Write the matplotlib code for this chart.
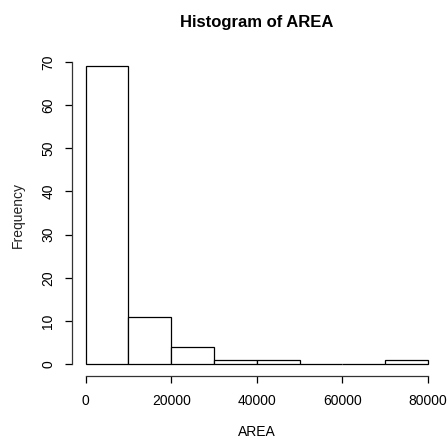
import matplotlib
matplotlib.use("Agg")
import matplotlib.pyplot as plt
import numpy as np

bin_edges = [0, 10000, 20000, 30000, 40000, 50000, 60000, 70000, 80000]
counts = [69, 11, 4, 1, 1, 0, 0, 1]
x_ticks = [0, 20000, 40000, 60000, 80000]
x_tick_labels = ["0", "20000", "40000", "60000", "80000"]
y_ticks = [0, 10, 20, 30, 40, 50, 60, 70]

plt.rcParams['font.family'] = ['Liberation Sans', 'DejaVu Sans']

fig = plt.figure(figsize=(4.48, 4.40), dpi=100)
ax = fig.add_axes([72/448, 1-376/440, (441.7-72)/448, (376-54.4)/440])

lefts = bin_edges[:-1]
ax.hist(lefts, bins=bin_edges, weights=counts, facecolor='white',
        edgecolor='black', linewidth=0.9)

xr = bin_edges[-1] - bin_edges[0]
ax.set_xlim(bin_edges[0] - 0.04*xr, bin_edges[-1] + 0.04*xr)
ymax = max(counts)
ax.set_ylim(-0.04*ymax, ymax*1.04)

for s in ['top', 'right']:
    ax.spines[s].set_visible(False)
ax.spines['left'].set_bounds(0, 70)
ax.spines['bottom'].set_bounds(0, 80000)
for s in ['left', 'bottom']:
    ax.spines[s].set_linewidth(0.9)
    ax.spines[s].set_color('#333333')

ax.set_xticks(x_ticks)
ax.set_xticklabels(x_tick_labels)
ax.set_yticks(y_ticks)
ax.set_yticklabels([str(v) for v in y_ticks], rotation=90, va='center')
ax.tick_params(axis='both', direction='out', length=5, width=0.9, labelsize=10)
ax.tick_params(axis='x', pad=8)
ax.tick_params(axis='y', pad=7)

ax.set_xlabel("AREA", fontsize=10, labelpad=12)
ax.set_ylabel("Frequency", fontsize=10, labelpad=12, color='#222222')
fig.text(0.5*(72+441.7)/448, 1-22/440, "Histogram of AREA", ha='center', va='center',
         fontsize=12, fontweight='bold')

fig.savefig("out.png", dpi=100)
